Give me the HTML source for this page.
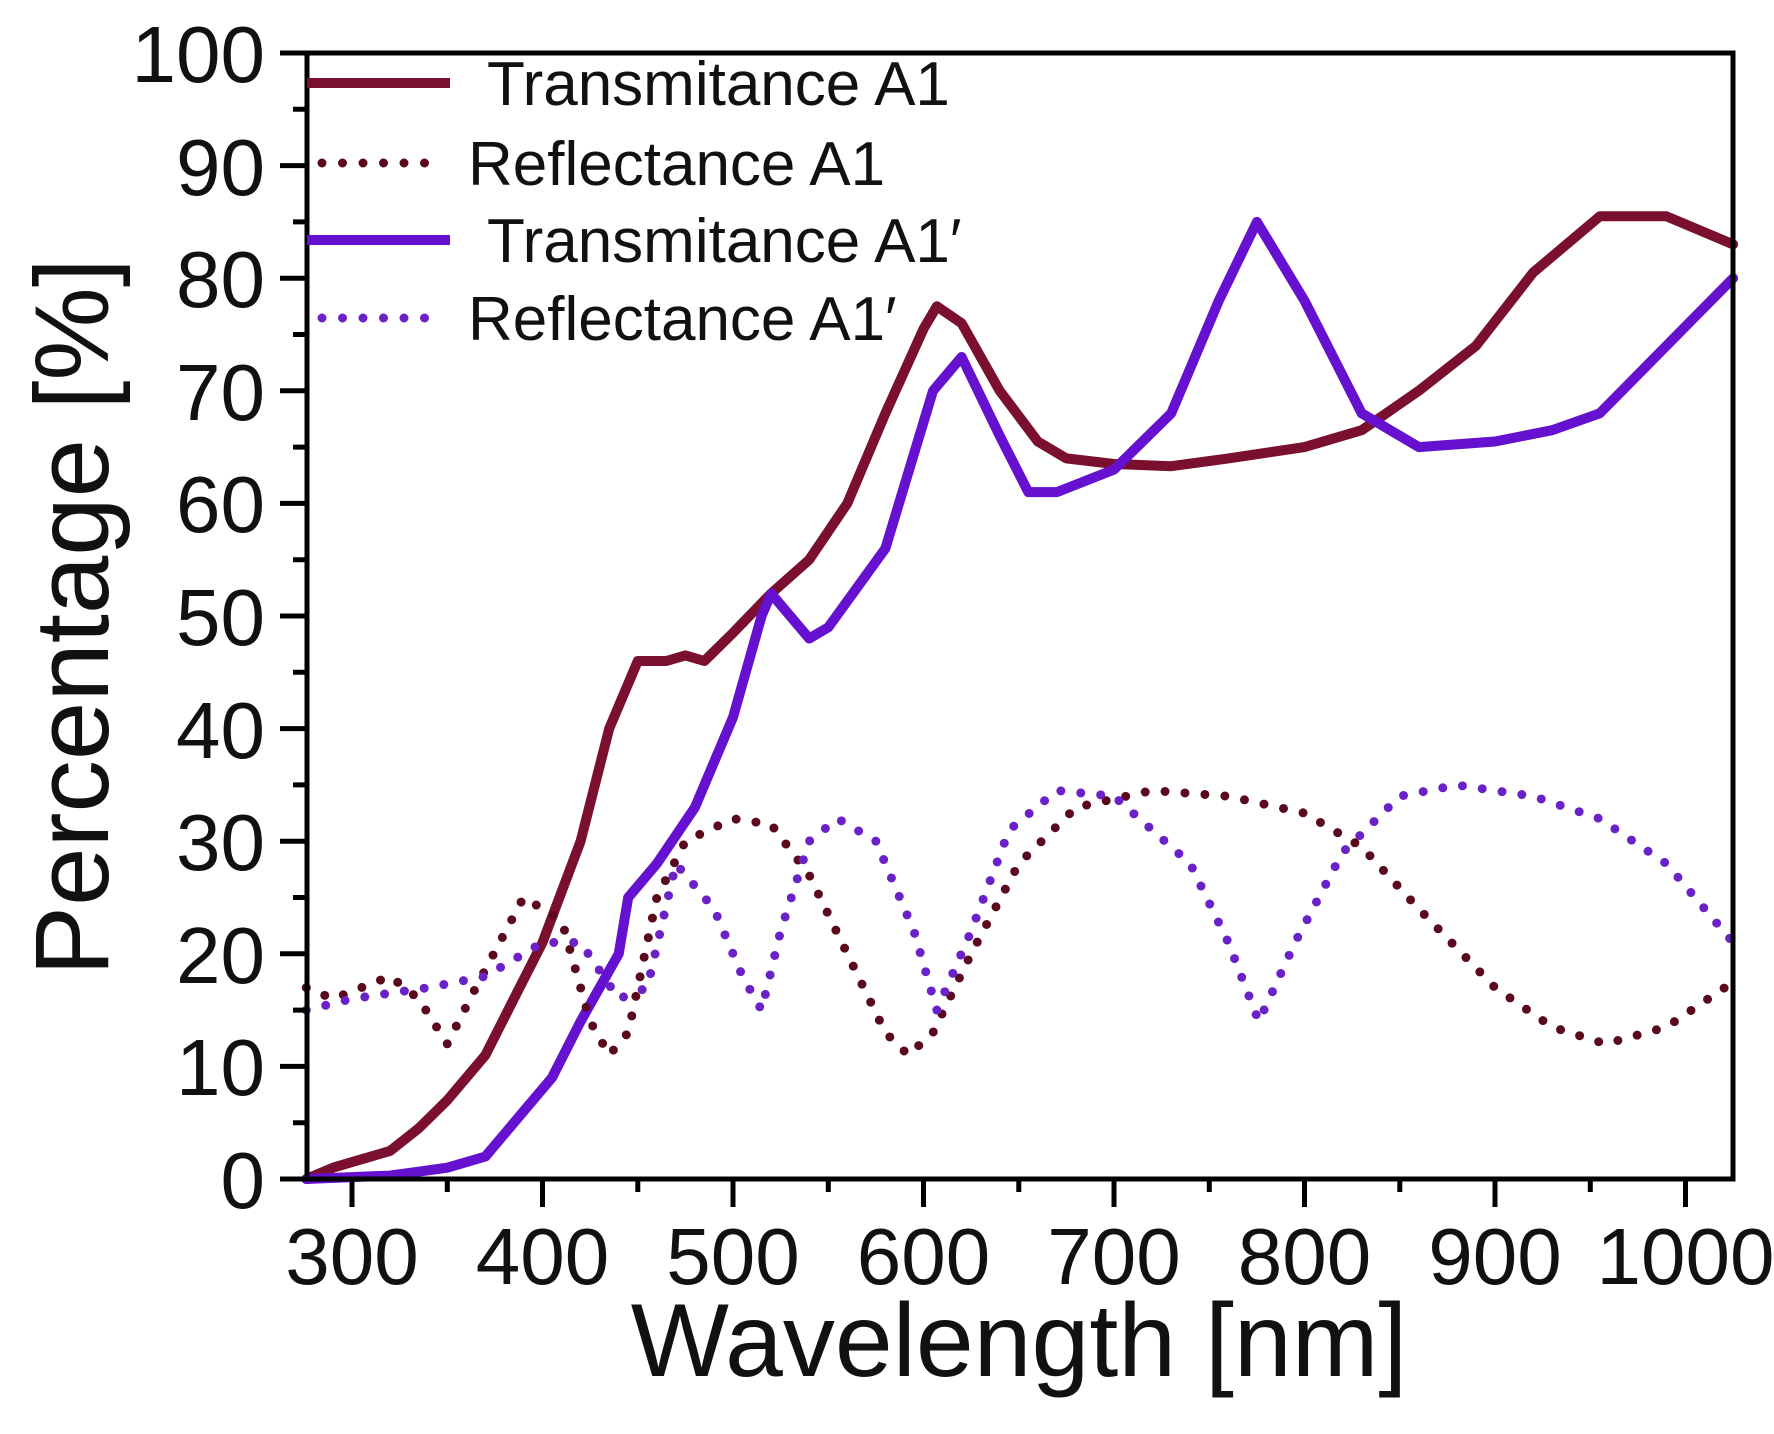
<!DOCTYPE html>
<html><head><meta charset="utf-8"><style>html,body{margin:0;padding:0;background:#fff}svg{display:block}</style></head>
<body>
<svg xmlns="http://www.w3.org/2000/svg" width="1774" height="1434" viewBox="0 0 1774 1434" font-family="Liberation Sans, Arial, sans-serif">
<rect width="1774" height="1434" fill="#fff"/>
<g fill="none" stroke-linejoin="round" stroke-linecap="round">
<polyline stroke="#7a0f2e" stroke-width="10" points="306.3,1179 333,1167.7 352,1162.1 390.1,1150.9 418.7,1128.3 447.3,1100.2 485.4,1055.1 513.9,998.8 542.5,942.5 580.6,841.2 609.2,728.6 637.8,661 666.3,661 685.4,655.4 704.4,661 733,632.9 771.1,593.5 809.2,559.7 847.3,503.4 885.4,413.3 923.5,328.9 936.8,306.3 961.6,323.2 999.7,390.8 1037.8,441.5 1066.4,458.4 1114,464 1171.2,466.2 1228.3,458.4 1304.5,447.1 1361.7,430.2 1418.8,390.8 1476,345.8 1533.1,272.6 1599.8,216.3 1666.5,216.3 1733.1,244.4"/>
<polyline stroke="#6610d0" stroke-width="10" points="306.3,1179 390.1,1175.6 447.3,1167.7 485.4,1156.5 523.5,1111.4 552,1077.7 580.6,1021.4 618.7,953.8 628.2,897.5 656.8,863.7 694.9,807.4 733,717.3 761.6,616 771.1,593.5 809.2,638.5 828.3,627.3 885.4,548.4 933,390.8 961.6,357 999.7,435.8 1028.3,492.1 1056.9,492.1 1114,469.6 1171.2,413.3 1218.8,300.7 1256.9,221.9 1304.5,300.7 1361.7,413.3 1418.8,447.1 1495,441.5 1552.2,430.2 1599.8,413.3 1733.1,278.2"/>
<polyline stroke="#5a0a1c" stroke-width="9" stroke-dasharray="0 20" points="306.3,987.6 333,998.8 390.1,976.3 418.7,998.8 447.3,1043.9 475.8,987.6 523.5,897.5 561.6,920 590.1,1021.4 609.2,1055.1 628.2,1032.6 656.8,897.5 685.4,841.2 733,818.7 771.1,824.3 809.2,875 847.3,953.8 885.4,1032.6 908.3,1055.1 933,1032.6 971.1,953.8 1018.8,863.7 1075.9,807.4 1152.1,790.5 1228.3,796.2 1304.5,813.1 1361.7,846.8 1418.8,908.8 1495,987.6 1552.2,1027 1605.5,1043.9 1666.5,1027 1733.1,982"/>
<polyline stroke="#6a22c8" stroke-width="9" stroke-dasharray="0 20" points="306.3,1010.1 352,998.8 428.2,987.6 485.4,976.3 542.5,942.5 580.6,942.5 618.7,998.8 647.3,987.6 675.9,863.7 714,908.8 742.5,976.3 761.6,1010.1 780.6,931.3 809.2,841.2 837.8,818.7 875.9,841.2 914,931.3 936.8,1010.1 971.1,931.3 1009.2,830 1056.9,790.5 1114,796.2 1190.2,863.7 1228.3,942.5 1258.8,1021.4 1295,942.5 1342.6,852.5 1399.8,796.2 1456.9,785 1533.1,796.2 1599.8,818.7 1666.5,863.7 1733.1,942.5"/>
</g>
<rect x="307" y="53" width="1426" height="1126" fill="none" stroke="#000" stroke-width="5"/>
<g stroke="#000" stroke-width="5">
<path d="M307 1179H280M307 1066.4H280M307 953.8H280M307 841.2H280M307 728.6H280M307 616H280M307 503.4H280M307 390.8H280M307 278.2H280M307 165.6H280M307 53H280"/>
<path d="M307 1122.7H293M307 1010.1H293M307 897.5H293M307 784.9H293M307 672.3H293M307 559.7H293M307 447.1H293M307 334.5H293M307 221.9H293M307 109.3H293"/>
<path d="M352 1179V1207M542.5 1179V1207M733 1179V1207M923.5 1179V1207M1114 1179V1207M1304.5 1179V1207M1495 1179V1207M1685.5 1179V1207"/>
<path d="M447.3 1179V1192M637.8 1179V1192M828.3 1179V1192M1018.8 1179V1192M1209.3 1179V1192M1399.8 1179V1192M1590.3 1179V1192"/>
</g>
<g font-size="80" fill="#111" text-anchor="end">
<text x="265" y="1208">0</text><text x="265" y="1095">10</text><text x="265" y="983">20</text><text x="265" y="870">30</text><text x="265" y="758">40</text><text x="265" y="645">50</text><text x="265" y="532">60</text><text x="265" y="420">70</text><text x="265" y="307">80</text><text x="265" y="195">90</text><text x="265" y="82">100</text>
</g>
<g font-size="80" fill="#111" text-anchor="middle">
<text x="352" y="1284">300</text><text x="542.5" y="1284">400</text><text x="733" y="1284">500</text><text x="923.5" y="1284">600</text><text x="1114" y="1284">700</text><text x="1304.5" y="1284">800</text><text x="1495" y="1284">900</text><text x="1685.5" y="1284">1000</text>
</g>
<text x="1019" y="1376" font-size="104" text-anchor="middle" fill="#111">Wavelength [nm]</text>
<text transform="translate(108,617) rotate(-90)" font-size="105" text-anchor="middle" fill="#111">Percentage [%]</text>
<g font-size="62" fill="#111">
<line x1="307" y1="83" x2="450" y2="83" stroke="#7a0f2e" stroke-width="10"/>
<text x="487" y="105">Transmitance A1</text>
<line x1="322" y1="163" x2="445" y2="163" stroke="#5a0a1c" stroke-width="9" stroke-dasharray="0 20.5" stroke-linecap="round"/>
<text x="468" y="185">Reflectance A1</text>
<line x1="307" y1="240" x2="450" y2="240" stroke="#6610d0" stroke-width="10"/>
<text x="487" y="262">Transmitance A1′</text>
<line x1="322" y1="318" x2="445" y2="318" stroke="#6a22c8" stroke-width="9" stroke-dasharray="0 20.5" stroke-linecap="round"/>
<text x="468" y="340">Reflectance A1′</text>
</g>
</svg>
</body></html>
